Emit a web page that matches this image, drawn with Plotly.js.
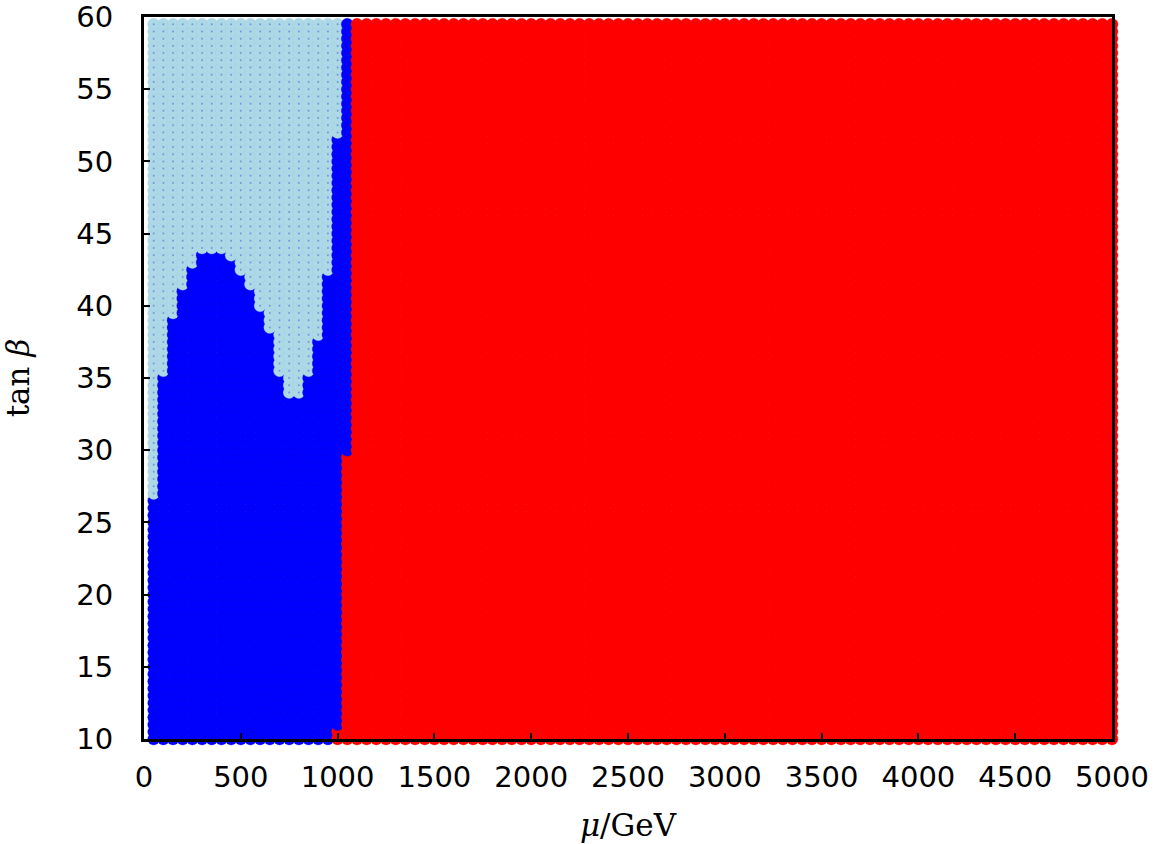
<!DOCTYPE html>
<html>
<head>
<meta charset="utf-8">
<script src="https://cdn.plot.ly/plotly-3.0.1.min.js"></script>
<style>
  html, body { margin: 0; padding: 0; background: #fff; }
  #chart { width: 1156px; height: 844px; }
</style>
</head>
<body>
<div id="chart"></div>
<script>
// scan grid (mu in GeV, tan beta)
const muGrid = [
  50, 100, 150, 200, 250, 300, 350, 400, 450, 500, 550, 600, 650, 700, 750, 800, 850, 900, 950, 1000,
  1050, 1100, 1150, 1200, 1250, 1300, 1350, 1400, 1450, 1500, 1550, 1600, 1650, 1700, 1750, 1800, 1850, 1900, 1950, 2000,
  2050, 2100, 2150, 2200, 2250, 2300, 2350, 2400, 2450, 2500, 2550, 2600, 2650, 2700, 2750, 2800, 2850, 2900, 2950, 3000,
  3050, 3100, 3150, 3200, 3250, 3300, 3350, 3400, 3450, 3500, 3550, 3600, 3650, 3700, 3750, 3800, 3850, 3900, 3950, 4000,
  4050, 4100, 4150, 4200, 4250, 4300, 4350, 4400, 4450, 4500, 4550, 4600, 4650, 4700, 4750, 4800, 4850, 4900, 4950, 5000
];
const tanBetaGrid = [
  10, 10.5, 11, 11.5, 12, 12.5, 13, 13.5, 14, 14.5, 15, 15.5, 16, 16.5, 17, 17.5, 18, 18.5, 19, 19.5,
  20, 20.5, 21, 21.5, 22, 22.5, 23, 23.5, 24, 24.5, 25, 25.5, 26, 26.5, 27, 27.5, 28, 28.5, 29, 29.5,
  30, 30.5, 31, 31.5, 32, 32.5, 33, 33.5, 34, 34.5, 35, 35.5, 36, 36.5, 37, 37.5, 38, 38.5, 39, 39.5,
  40, 40.5, 41, 41.5, 42, 42.5, 43, 43.5, 44, 44.5, 45, 45.5, 46, 46.5, 47, 47.5, 48, 48.5, 49, 49.5,
  50, 50.5, 51, 51.5, 52, 52.5, 53, 53.5, 54, 54.5, 55, 55.5, 56, 56.5, 57, 57.5, 58, 58.5, 59, 59.5
];

// region boundaries per mu column (columns not listed are red everywhere)
const boundaryMu    = [50, 100, 150, 200, 250, 300, 350, 400, 450, 500, 550, 600, 650, 700, 750, 800, 850, 900, 950, 1000, 1050];
const lightBlueFrom = [27, 35.5, 39.5, 41.5, 43, 44, 44, 44, 43.5, 42.5, 41.5, 40, 38.5, 35.5, 34, 34, 35.5, 38, 42.5, 52, null];
const blueFrom      = [10, 10, 10, 10, 10, 10, 10, 10, 10, 10, 10, 10, 10, 10, 10, 10, 10, 10, 10, 11, 30];

const fill = { light: '#add8e6', blue: '#0000ff', red: '#ff0000' };
const edge = { light: '#a2c8e8', blue: '#0000e0', red: '#f40000' };

// points in scan order: later points are drawn on top
const xs = [], ys = [], fills = [], edges = [];
const dotX = [], dotY = [];
muGrid.forEach(mu => {
  const k = boundaryMu.indexOf(mu);
  tanBetaGrid.forEach(tb => {
    let cls = 'red';
    if (k >= 0) {
      if (lightBlueFrom[k] !== null && tb >= lightBlueFrom[k]) cls = 'light';
      else if (tb >= blueFrom[k]) cls = 'blue';
    }
    xs.push(mu); ys.push(tb);
    fills.push(fill[cls]); edges.push(edge[cls]);
    if (cls === 'light') { dotX.push(mu); dotY.push(tb); }
  });
});

const points = {
  x: xs, y: ys,
  type: 'scatter', mode: 'markers',
  cliponaxis: false,
  marker: { size: 12, color: fills, line: { width: 0.3, color: edges } },
  hoverinfo: 'skip'
};
const dots = {
  x: dotX, y: dotY,
  type: 'scatter', mode: 'markers',
  cliponaxis: false,
  marker: { size: 2, color: '#7896dc' },
  hoverinfo: 'skip'
};

const tickFont = { family: 'DejaVu Sans, sans-serif', size: 29, color: '#000' };
const titleFont = { family: 'DejaVu Serif, serif', size: 31, color: '#000' };

const layout = {
  width: 1156, height: 844,
  paper_bgcolor: '#fff', plot_bgcolor: '#fff',
  margin: { l: 144, r: 44, t: 17, b: 105 },
  showlegend: false,
  xaxis: {
    range: [0, 5000],
    dtick: 500, tick0: 0,
    ticks: 'inside', ticklen: 6, tickwidth: 2, tickcolor: '#000',
    tickfont: tickFont,
    ticklabelstandoff: 10,
    showgrid: false, zeroline: false,
    showline: true, linecolor: '#000', linewidth: 3, mirror: true,
    layer: 'above traces',
    title: { text: '<i>μ</i>/GeV', font: titleFont, standoff: 22 }
  },
  yaxis: {
    range: [10, 60],
    dtick: 5, tick0: 10,
    ticks: 'inside', ticklen: 6, tickwidth: 2, tickcolor: '#000',
    tickfont: tickFont,
    ticklabelstandoff: 22,
    showgrid: false, zeroline: false,
    showline: true, linecolor: '#000', linewidth: 3, mirror: true,
    layer: 'above traces',
    title: { text: 'tan <i>β</i>', font: titleFont, standoff: 40 }
  }
};

Plotly.newPlot('chart', [points, dots], layout, { displayModeBar: false, staticPlot: true });
</script>
</body>
</html>
